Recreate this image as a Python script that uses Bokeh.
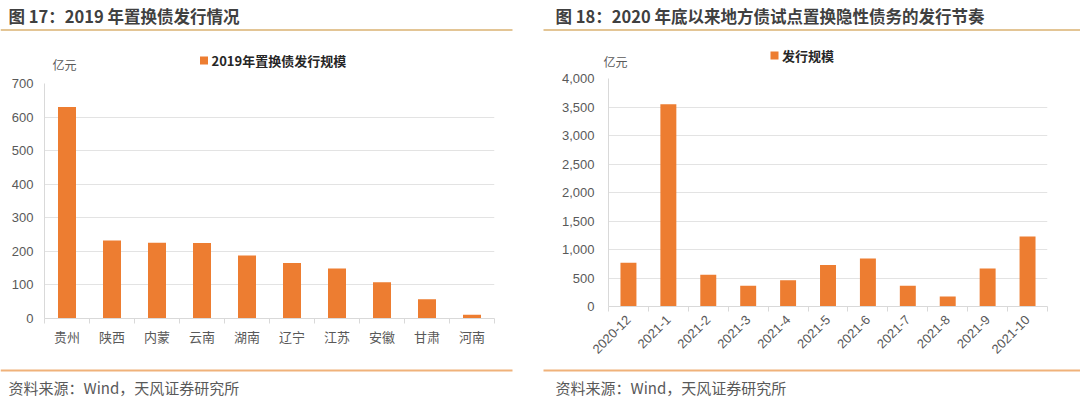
import math
from bokeh.plotting import figure
from bokeh.models import Range1d, FixedTicker, NumeralTickFormatter, ColumnDataSource
from bokeh.layouts import row, column
from bokeh.core.properties import value
from bokeh.embed import file_html
from bokeh.resources import INLINE

# ---- data ----
provinces = ["贵州", "陕西", "内蒙", "云南", "湖南", "辽宁", "江苏", "安徽", "甘肃", "河南"]
province_values = [630, 232, 226, 225, 188, 165, 149, 108, 57, 11]

months = ["2020-12", "2021-1", "2021-2", "2021-3", "2021-4", "2021-5",
          "2021-6", "2021-7", "2021-8", "2021-9", "2021-10"]
month_values = [768, 3550, 557, 364, 460, 730, 840, 365, 176, 668, 1230]

titles = ["图 17：2019 年置换债发行情况",
          "图 18：2020 年底以来地方债试点置换隐性债务的发行节奏"]
series_names = ["2019年置换债发行规模", "发行规模"]
unit = "亿元"
source_text = "资料来源：Wind，天风证券研究所"

CJK = "Noto Sans CJK SC"
NUM = "Liberation Sans"
BAR = "#ED7D31"
GRID = "#e3e3e3"
AXIS = "#d9d9d9"
TXT = "#595959"

TOTAL_W = 1080
HEADER_H = 71
CHART_H = 285
FOOTER_H = 42
W1, W2 = 543, 537

# layout positions of the decorations (page pixels)
title_x = [8, 555]
line_spans = [(0, 512), (543, 1080)]
legend_sq_x = [203.5, 774]
unit_pos = [(64, 63.5), (615, 61)]


def blank(width, height):
    p = figure(width=width, height=height, x_range=Range1d(0, width),
               y_range=Range1d(height, 0), min_border=0,
               x_axis_type=None, y_axis_type=None,
               output_backend="svg", toolbar_location=None)
    p.outline_line_color = None
    return p


header = blank(TOTAL_W, HEADER_H)
header.text(x=title_x, y=[15, 15], text=titles, text_font=value(CJK),
            text_font_size="16.5px", text_font_style="bold", text_color="#404040",
            text_baseline="middle", text_align="left")
header.segment(x0=[s[0] for s in line_spans], y0=[29.5, 29.5],
               x1=[s[1] for s in line_spans], y1=[29.5, 29.5],
               line_color="#e3c595", line_width=2)
header.scatter(x=legend_sq_x, y=[60, 55], marker="square", size=8,
               fill_color=BAR, line_color=None)
header.text(x=[x + 7.5 for x in legend_sq_x], y=[60, 55], text=series_names,
            text_font=value(CJK), text_font_size="13px", text_font_style="bold",
            text_color="#262626", text_baseline="middle", text_align="left")
header.text(x=[u[0] for u in unit_pos], y=[u[1] for u in unit_pos],
            text=[unit, unit], text_font=value(CJK), text_font_size="12px",
            text_color=TXT, text_baseline="middle", text_align="center")

footer = blank(TOTAL_W, FOOTER_H)
footer.segment(x0=[s[0] for s in line_spans], y0=[10, 10],
               x1=[s[1] for s in line_spans], y1=[10, 10],
               line_color="#f0b27a", line_width=2)
footer.text(x=title_x, y=[27, 27], text=[source_text, source_text],
            text_font=value(CJK), text_font_size="15px", text_color=TXT,
            text_baseline="middle", text_align="left")


def chart(cats, vals, ymax, ystep, width, mb_left, frame_w, mb_top, frame_h,
          rotate, fmt, ystand):
    n = len(cats)
    p = figure(frame_width=frame_w, frame_height=frame_h,
               min_border_left=mb_left, min_border_right=width - mb_left - frame_w,
               min_border_top=mb_top, min_border_bottom=CHART_H - mb_top - frame_h,
               x_range=Range1d(0, n), y_range=Range1d(0, ymax),
               output_backend="svg", toolbar_location=None)
    p.outline_line_color = None
    src = ColumnDataSource(dict(x=[i + 0.5 for i in range(n)], top=vals))
    p.vbar(x="x", top="top", width=0.4, bottom=0, source=src,
           fill_color=BAR, line_color=None)

    xa = p.xaxis[0]
    xa.ticker = FixedTicker(ticks=[i + 0.5 for i in range(n)],
                            minor_ticks=list(range(n + 1)))
    xa.major_label_overrides = {i + 0.5: c for i, c in enumerate(cats)}
    xa.major_tick_line_color = None
    xa.major_tick_out = 0
    xa.major_tick_in = 0
    xa.minor_tick_line_color = AXIS
    xa.minor_tick_out = 5
    xa.minor_tick_in = 0
    xa.axis_line_color = AXIS
    xa.major_label_text_color = TXT
    if rotate:
        xa.major_label_orientation = math.pi / 4
        xa.major_label_text_font = NUM
        xa.major_label_text_font_size = "13px"
        xa.major_label_standoff = 6
    else:
        xa.major_label_text_font = CJK
        xa.major_label_text_font_size = "13px"
        xa.major_label_standoff = 3

    ya = p.yaxis[0]
    ya.ticker = FixedTicker(ticks=list(range(0, ymax + 1, ystep)))
    if fmt:
        ya.formatter = NumeralTickFormatter(format="0,0")
    ya.major_tick_line_color = None
    ya.major_tick_out = 0
    ya.major_tick_in = 0
    ya.minor_tick_line_color = None
    ya.minor_tick_out = 0
    ya.axis_line_color = AXIS
    ya.major_label_text_font = NUM
    ya.major_label_text_color = TXT
    ya.major_label_text_font_size = "13px"
    ya.major_label_standoff = ystand

    p.xgrid.grid_line_color = None
    p.ygrid.grid_line_color = GRID
    return p


c1 = chart(provinces, province_values, 700, 100, W1, mb_left=44, frame_w=450,
           mb_top=12, frame_h=235, rotate=False, fmt=False, ystand=11)
c2 = chart(months, month_values, 4000, 500, W2, mb_left=65, frame_w=439,
           mb_top=7, frame_h=228, rotate=True, fmt=True, ystand=14)

layout = column(row(header),
                row(column(c1, spacing=0), column(c2, spacing=0), spacing=0),
                row(footer), spacing=0)
open("out.html", "w").write(file_html(layout, INLINE))
